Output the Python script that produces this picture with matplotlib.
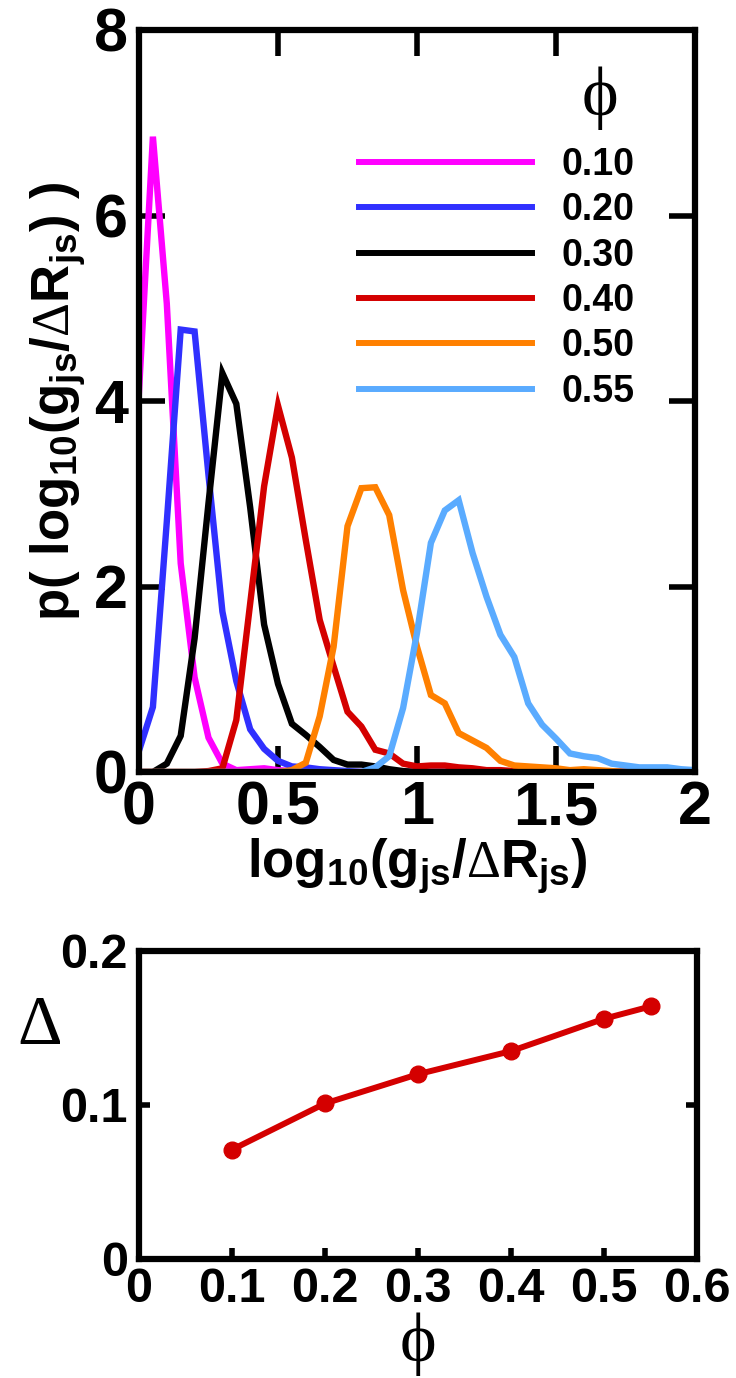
import matplotlib
matplotlib.use("Agg")
import matplotlib.pyplot as plt

# bin centres of log10(g_js / dR_js)
BINS = [0.00, 0.05, 0.10, 0.15, 0.20, 0.25, 0.30, 0.35, 0.40, 0.45,
        0.50, 0.55, 0.60, 0.65, 0.70, 0.75, 0.80, 0.85, 0.90, 0.95,
        1.00, 1.05, 1.10, 1.15, 1.20, 1.25, 1.30, 1.35, 1.40, 1.45,
        1.50, 1.55, 1.60, 1.65, 1.70, 1.75, 1.80, 1.85, 1.90, 1.95, 2.00]

P_010 = [4.10, 6.85, 5.05, 2.25, 1.02, 0.37, 0.09, 0.02, 0.03, 0.04,
         0.02, 0.01, 0.00, 0.00, 0.00, 0.00, 0.00, 0.00, 0.00, 0.00,
         0.00, 0.00, 0.00, 0.00, 0.00, 0.00, 0.00, 0.00, 0.00, 0.00,
         0.00, 0.00, 0.00, 0.00, 0.00, 0.00, 0.00, 0.00, 0.00, 0.00, 0.00]
P_020 = [0.23, 0.70, 2.70, 4.77, 4.75, 3.20, 1.73, 0.98, 0.46, 0.25,
         0.12, 0.06, 0.05, 0.03, 0.02, 0.01, 0.00, 0.00, 0.00, 0.00,
         0.00, 0.00, 0.00, 0.00, 0.00, 0.00, 0.00, 0.00, 0.00, 0.00,
         0.00, 0.00, 0.00, 0.00, 0.00, 0.00, 0.00, 0.00, 0.00, 0.00, 0.00]
P_030 = [0.00, 0.00, 0.09, 0.39, 1.44, 2.90, 4.30, 3.97, 2.85, 1.59,
         0.95, 0.52, 0.40, 0.27, 0.13, 0.08, 0.08, 0.06, 0.03, 0.01,
         0.00, 0.00, 0.00, 0.00, 0.00, 0.00, 0.00, 0.00, 0.00, 0.00,
         0.00, 0.00, 0.00, 0.00, 0.00, 0.00, 0.00, 0.00, 0.00, 0.00, 0.00]
P_040 = [0.00, 0.00, 0.00, 0.00, 0.00, 0.01, 0.04, 0.56, 1.82, 3.08,
         3.95, 3.39, 2.50, 1.64, 1.14, 0.65, 0.49, 0.24, 0.20, 0.09,
         0.06, 0.07, 0.07, 0.05, 0.04, 0.02, 0.02, 0.01, 0.01, 0.01,
         0.00, 0.00, 0.00, 0.00, 0.00, 0.00, 0.00, 0.00, 0.00, 0.00, 0.00]
P_050 = [0.00, 0.00, 0.00, 0.00, 0.00, 0.00, 0.00, 0.00, 0.00, 0.00,
         0.00, 0.02, 0.10, 0.60, 1.35, 2.65, 3.06, 3.07, 2.77, 1.96,
         1.35, 0.83, 0.74, 0.42, 0.34, 0.26, 0.12, 0.07, 0.06, 0.05,
         0.04, 0.02, 0.03, 0.02, 0.01, 0.00, 0.00, 0.00, 0.00, 0.00, 0.00]
P_055 = [0.00, 0.00, 0.00, 0.00, 0.00, 0.00, 0.00, 0.00, 0.00, 0.00,
         0.00, 0.00, 0.00, 0.00, 0.00, 0.00, 0.00, 0.05, 0.17, 0.69,
         1.50, 2.47, 2.82, 2.93, 2.36, 1.89, 1.48, 1.24, 0.74, 0.51,
         0.36, 0.20, 0.17, 0.15, 0.09, 0.07, 0.05, 0.05, 0.05, 0.03, 0.02]

CURVES = [P_010, P_020, P_030, P_040, P_050, P_055]
LABELS = ["0.10", "0.20", "0.30", "0.40", "0.50", "0.55"]
COLORS = ["#ff00ff", "#3030ff", "#000000", "#d40000", "#ff8000", "#5aabff"]

# bottom panel: width of the distribution vs packing fraction
PHI = [0.10, 0.20, 0.30, 0.40, 0.50, 0.55]
DELTA = [0.071, 0.101, 0.120, 0.135, 0.156, 0.164]

SERIF = ["Liberation Serif", "DejaVu Serif"]

plt.rcParams["font.family"] = ["Liberation Sans", "DejaVu Sans"]
plt.rcParams["font.weight"] = "bold"
plt.rcParams["mathtext.fontset"] = "custom"
plt.rcParams["mathtext.rm"] = "Liberation Serif:weight=normal"
plt.rcParams["mathtext.bf"] = "Liberation Sans:bold"
plt.rcParams["mathtext.it"] = "Liberation Sans:bold"

W, H = 736, 1378
fig = plt.figure(figsize=(W / 100, H / 100), dpi=100)


def box(left, top, right, bottom):
    return [left / W, 1 - bottom / H, (right - left) / W, (bottom - top) / H]


# ---- top panel: distributions
ax = fig.add_axes(box(139, 30, 695, 772))
for y, lab, col in zip(CURVES, LABELS, COLORS):
    ax.plot(BINS, y, color=col, lw=4.6, label=lab, solid_joinstyle="miter")

ax.set_xlim(0, 2)
ax.set_ylim(0, 8)
ax.set_xticks([0, 0.5, 1, 1.5, 2])
ax.set_xticklabels(["0", "0.5", "1", "1.5", "2"])
ax.set_yticks([0, 2, 4, 6, 8])
for s in ax.spines.values():
    s.set_linewidth(4.5)
ax.tick_params(direction="in", length=19, width=4, labelsize=44,
               top=True, right=True)
ax.tick_params(axis="y", pad=8)
ax.tick_params(axis="x", pad=6)
for t in ax.get_xticklabels() + ax.get_yticklabels():
    t.set_fontweight("bold")

ax.set_xlabel(r"$\mathbf{log_{10}(g_{js}/}\mathrm{\Delta}\mathbf{R_{js})}$",
              fontsize=38, labelpad=-1)
ax.set_ylabel(r"$\mathbf{p(\ log_{10}(g_{js}/}\mathrm{\Delta}\mathbf{R_{js})\ )}$",
              fontsize=38, labelpad=4)

leg = ax.legend(loc="upper left", bbox_to_anchor=(359 / W, 1 - 147 / H),
                bbox_transform=fig.transFigure, frameon=False,
                prop={"size": 27, "weight": "bold"}, handlelength=4.6,
                handletextpad=0.8, labelspacing=0.25, borderpad=0,
                borderaxespad=0)
for line in leg.get_lines():
    line.set_linewidth(4.3)
fig.text(600 / W, 1 - 98 / H, "\u03d5", family=SERIF, fontsize=50,
         ha="center", va="center", fontweight="normal")

# ---- bottom panel: Delta vs phi
bx = fig.add_axes(box(139, 951, 697, 1259))
bx.plot(PHI, DELTA, color="#d40000", lw=4.3, marker="o", markersize=12)
bx.set_xlim(0, 0.6)
bx.set_ylim(0, 0.2)
bx.set_xticks([0, 0.1, 0.2, 0.3, 0.4, 0.5, 0.6])
bx.set_xticklabels(["0", "0.1", "0.2", "0.3", "0.4", "0.5", "0.6"])
bx.set_yticks([0, 0.1, 0.2])
bx.set_yticklabels(["0", "0.1", "0.2"])
for s in bx.spines.values():
    s.set_linewidth(4.5)
bx.tick_params(direction="in", length=8, width=4, labelsize=35,
               right=True)
bx.tick_params(axis="y", pad=8)
bx.tick_params(axis="x", pad=6)
for t in bx.get_xticklabels() + bx.get_yticklabels():
    t.set_fontweight("bold")
bx.set_xlabel("\u03d5", family=SERIF, fontsize=50, fontweight="normal",
              labelpad=0)
fig.text(40 / W, 1 - 1027 / H, "\u0394", family=SERIF,
         fontsize=50, fontweight="normal", ha="center", va="center")

fig.savefig("out.png", dpi=100)
